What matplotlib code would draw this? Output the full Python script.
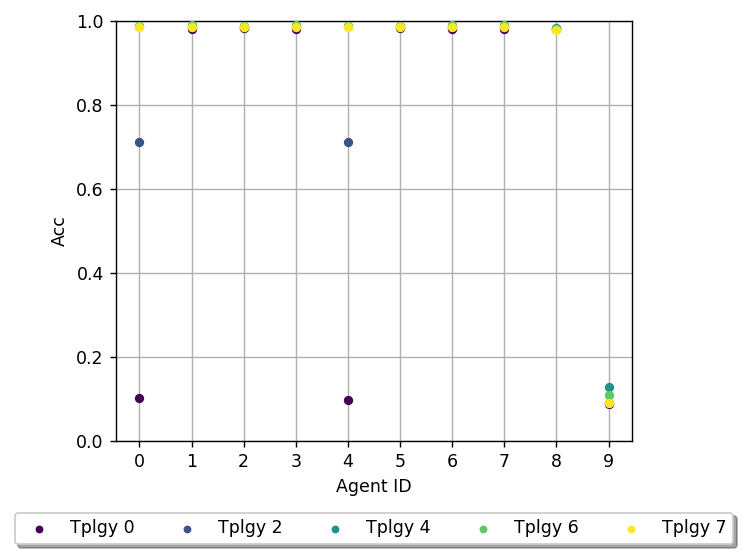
import matplotlib
matplotlib.use("Agg")
import matplotlib.pyplot as plt

agents = list(range(10))
labels = ["Tplgy 0", "Tplgy 2", "Tplgy 4", "Tplgy 6", "Tplgy 7"]
colors = ["#440154", "#3b528b", "#21918c", "#5ec962", "#fde725"]

tplgy_0 = [0.103, 0.980, 0.983, 0.979, 0.097, 0.982, 0.979, 0.979, 0.979, 0.087]
tplgy_2 = [0.710, 0.984, 0.985, 0.984, 0.712, 0.985, 0.984, 0.984, 0.980, 0.090]
tplgy_4 = [0.987, 0.986, 0.986, 0.987, 0.987, 0.986, 0.987, 0.987, 0.982, 0.127]
tplgy_6 = [0.988, 0.989, 0.987, 0.989, 0.988, 0.988, 0.989, 0.989, 0.981, 0.108]
tplgy_7 = [0.986, 0.986, 0.985, 0.985, 0.986, 0.985, 0.985, 0.986, 0.978, 0.089]
series = [tplgy_0, tplgy_2, tplgy_4, tplgy_6, tplgy_7]

DPI = 125
fig = plt.figure(figsize=(748 / DPI, 558 / DPI), dpi=DPI)
ax = fig.add_axes([0.155, 0.21, 0.69, 0.753])

for vals, lab, col in zip(series, labels, colors):
    ax.scatter(agents, vals, s=19, color=col, label=lab, zorder=3)

ax.set_ylim(0, 1)
ax.set_xlim(-0.45, 9.45)
ax.set_xticks(agents)
ax.set_xlabel("Agent ID")
ax.set_ylabel("Acc")
ax.grid(True)
ax.set_axisbelow(True)

ax.legend(loc="upper center", bbox_to_anchor=(0.5, -0.15), ncol=5,
          fancybox=True, shadow=True, markerscale=0.8)

fig.savefig("out.png", dpi=DPI)
